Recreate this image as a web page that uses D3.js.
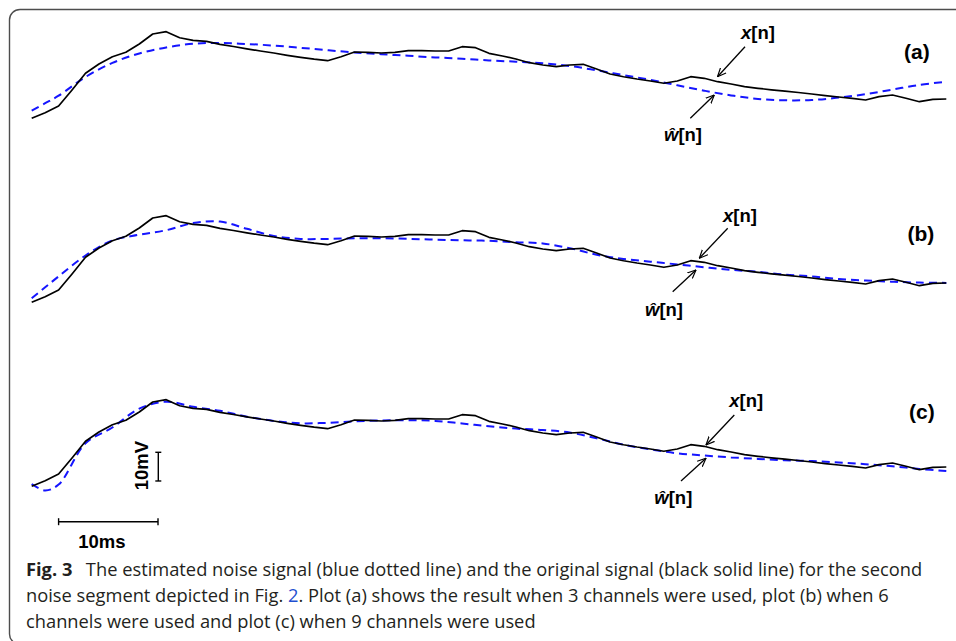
<!DOCTYPE html>
<html><head><meta charset="utf-8">
<script src="https://cdn.jsdelivr.net/npm/d3@7"></script>
<style>body{margin:0;background:#fff}svg{display:block}</style>
</head><body>
<svg id="c" width="956" height="641"></svg>
<script>
// ---- data (mV), sample index n ----
const xSignal = [0, 1.95, 4.29, 9.86, 15.68, 18.92, 21.46, 23.0, 25.89, 29.37, 30.17, 28.08, 27.18, 26.83, 25.78, 25.02, 24.22, 23.45, 22.75, 21.95, 21.25, 20.59, 20.07, 21.46, 23.10, 23.0, 22.75, 23.0, 23.55, 23.55, 23.45, 23.45, 24.95, 24.60, 22.65, 21.71, 20.66, 19.37, 18.57, 17.98, 18.57, 18.82, 17.18, 15.44, 14.49, 13.69, 13.0, 12.20, 13.0, 14.49, 13.94, 12.75, 11.95, 11.01, 10.45, 9.93, 9.44, 8.99, 8.47, 7.91, 7.42, 6.97, 6.38, 7.53, 8.12, 6.97, 5.78, 6.62, 6.72];
const estIdx = [0,1,2,4,6,8,10,12,14,16,18,20,22,24,26,28,30,32,34,36,38,40,42,44,46,48,50,52,54,56,58,60,62,64,66,68];
const est3ch = [2.65, 5.26, 7.87, 14.39, 19.30, 22.58, 24.70, 25.96, 26.24, 25.89, 25.33, 24.56, 23.72, 22.96, 22.33, 21.78, 21.22, 20.77, 20.17, 19.72, 19.16, 18.22, 16.72, 15.05, 13.41, 11.50, 9.62, 7.98, 6.76, 6.27, 6.38, 7.21, 8.40, 10.00, 11.64, 12.75];
const est6ch = [1.39, 5.23, 9.02, 16.31, 21.53, 23.55, 25.12, 27.60, 28.15, 25.61, 23.14, 22.09, 22.09, 22.33, 22.33, 22.12, 21.85, 21.60, 21.43, 20.94, 20.49, 18.85, 16.59, 15.09, 14.15, 13.21, 12.23, 11.32, 10.63, 9.62, 9.02, 8.08, 7.60, 7.18, 6.86, 6.76];
const est9ch = [0.80, -1.46, 0.59, 14.98, 20.49, 27.07, 29.48, 27.70, 26.31, 24.25, 22.79, 21.95, 22.12, 22.65, 22.96, 23.03, 22.79, 21.88, 20.94, 20.10, 19.62, 18.71, 16.73, 14.49, 12.86, 11.50, 10.73, 10.07, 9.55, 9.09, 8.81, 8.33, 7.70, 6.97, 6.06, 5.33];
const panelLabels = ["(a)", "(b)", "(c)"];
const estimates = [est3ch, est6ch, est9ch];
const sampleMs = 1.353;     // ms per sample
const scaleBarMs = 10, scaleBarMV = 10;
const captionLines = [
  "The estimated noise signal (blue dotted line) and the original signal (black solid line) for the second",
  ["noise segment depicted in Fig. ", "2", ". Plot (a) shows the result when 3 channels were used, plot (b) when 6"],
  "channels were used and plot (c) when 9 channels were used"
];

// ---- layout ----
const svg = d3.select("#c");
const x = d3.scaleLinear().domain([0, 68]).range([31.7, 946.3]);
const pxPerMV = 2.87;
const bases = [118.3, 302.3, 486.3];
const yScales = bases.map(b => d3.scaleLinear().domain([0, 30]).range([b, b - 30 * pxPerMV]));
const labFont = "Liberation Sans, Arial, sans-serif";

// frame
svg.append("path")
  .attr("d", "M956,9.5 H20 A10.5,10.5 0 0 0 9.5,20 V634 A10,10 0 0 0 19.5,644")
  .attr("fill", "none").attr("stroke", "#4d4d4d").attr("stroke-width", 1.4);

// arrowhead
const defs = svg.append("defs");
defs.append("marker").attr("id", "ah").attr("viewBox", "0 0 10 10")
  .attr("refX", 9.5).attr("refY", 5).attr("markerWidth", 9).attr("markerHeight", 9)
  .attr("markerUnits", "userSpaceOnUse").attr("orient", "auto")
  .append("path").attr("d", "M0,0.8 L9.5,5 L0,9.2").attr("fill", "none")
  .attr("stroke", "#000").attr("stroke-width", 1.3);

const black = d3.line().x((d, i) => x(i));
const blueLine = d3.line().curve(d3.curveCatmullRom.alpha(0.5));

const ann = [
  {xl:[741,38.5], xa:[[745,46.7],[717.5,76.7]], wl:[664,140.5], wa:[[690.3,118.3],[714.3,95]], pl:[904,58.6]},
  {xl:[723,221.5], xa:[[727.7,228.3],[699.3,258.3]], wl:[645,316], wa:[[672.7,291.7],[696,270]], pl:[907.5,240.6]},
  {xl:[729.3,406.5], xa:[[734.3,415],[706,445]], wl:[654.3,504], wa:[[681,481],[706,458.3]], pl:[909,419]}
];

yScales.forEach((y, p) => {
  const g = svg.append("g");
  g.append("path").datum(estimates[p].map((v, i) => [x(estIdx[i]), y(v)]))
    .attr("d", blueLine).attr("fill", "none").attr("stroke", "#1515ff")
    .attr("stroke-width", 2).attr("stroke-dasharray", "8,5");
  g.append("path").datum(xSignal)
    .attr("d", black.y(d => y(d))).attr("fill", "none").attr("stroke", "#000")
    .attr("stroke-width", 1.7).attr("stroke-linejoin", "round");

  const a = ann[p];
  const lbl = g.append("text").attr("x", a.xl[0]).attr("y", a.xl[1])
    .attr("font-family", labFont).attr("font-weight", "bold").attr("font-size", 18.5);
  lbl.append("tspan").attr("font-style", "italic").text("x");
  lbl.append("tspan").text("[n]");
  const wl = g.append("text").attr("x", a.wl[0]).attr("y", a.wl[1])
    .attr("font-family", labFont).attr("font-weight", "bold").attr("font-size", 18.5);
  wl.append("tspan").attr("font-style", "italic").text("ŵ");
  wl.append("tspan").text("[n]");
  [a.xa, a.wa].forEach(seg => {
    g.append("line").attr("x1", seg[0][0]).attr("y1", seg[0][1])
      .attr("x2", seg[1][0]).attr("y2", seg[1][1])
      .attr("stroke", "#000").attr("stroke-width", 1.3).attr("marker-end", "url(#ah)");
  });
  g.append("text").attr("x", a.pl[0]).attr("y", a.pl[1])
    .attr("font-family", labFont).attr("font-weight", "bold")
    .attr("font-size", 21).text(panelLabels[p]);
});

// scale bars
const yc = yScales[2];
const mvX = 158.3, mv0 = 1.85;
const sb = svg.append("g").attr("stroke", "#000").attr("stroke-width", 1.4);
sb.append("line").attr("x1", mvX).attr("x2", mvX).attr("y1", yc(mv0)).attr("y2", yc(mv0 + scaleBarMV));
[mv0, mv0 + scaleBarMV].forEach(v => sb.append("line").attr("x1", mvX - 3).attr("x2", mvX + 3).attr("y1", yc(v)).attr("y2", yc(v)));
const msY = 521.7, ms0 = 2.0;
const xa = x(ms0), xb = x(ms0 + scaleBarMs / sampleMs);
sb.append("line").attr("x1", xa).attr("x2", xb).attr("y1", msY).attr("y2", msY);
[xa, xb].forEach(v => sb.append("line").attr("x1", v).attr("x2", v).attr("y1", msY - 3.5).attr("y2", msY + 3.5));
svg.append("text").attr("transform", `translate(148.3,${(yc(mv0) + yc(mv0 + scaleBarMV)) / 2 - 1}) rotate(-90)`)
  .attr("text-anchor", "middle").attr("font-family", labFont)
  .attr("font-weight", "bold").attr("font-size", 18.5).text("10mV");
svg.append("text").attr("x", 78.3).attr("y", 548).attr("font-family", labFont)
  .attr("font-weight", "bold").attr("font-size", 18.5).text("10ms");

// caption
const capFont = "Open Sans, Noto Sans, sans-serif";
const capColor = "#231f20";
const cap = svg.append("g").attr("font-family", capFont).attr("fill", capColor);
const l1 = cap.append("text").attr("x", 26).attr("y", 576).attr("font-size", 17.6);
l1.append("tspan").attr("font-weight", "bold").text("Fig. 3");
l1.append("tspan").attr("x", 86).text(captionLines[0]);
const l2 = cap.append("text").attr("x", 26).attr("y", 602).attr("font-size", 17.6);
l2.append("tspan").text(captionLines[1][0]);
l2.append("tspan").attr("fill", "#1f4fd0").text(captionLines[1][1]);
l2.append("tspan").text(captionLines[1][2]);
const l3 = cap.append("text").attr("x", 26).attr("y", 628).attr("font-size", 17.6);
l3.append("tspan").text(captionLines[2]);
// fit caption to reference width
const w1 = l1.select("tspan:nth-child(2)").node().getComputedTextLength();
const k = (922.7 - 86) / w1;
cap.selectAll("text").attr("font-size", 17.6 * k);
l1.select("tspan:nth-child(2)").attr("x", 26 + l1.select("tspan").node().getComputedTextLength() + 13 * k);
</script>
</body></html>
